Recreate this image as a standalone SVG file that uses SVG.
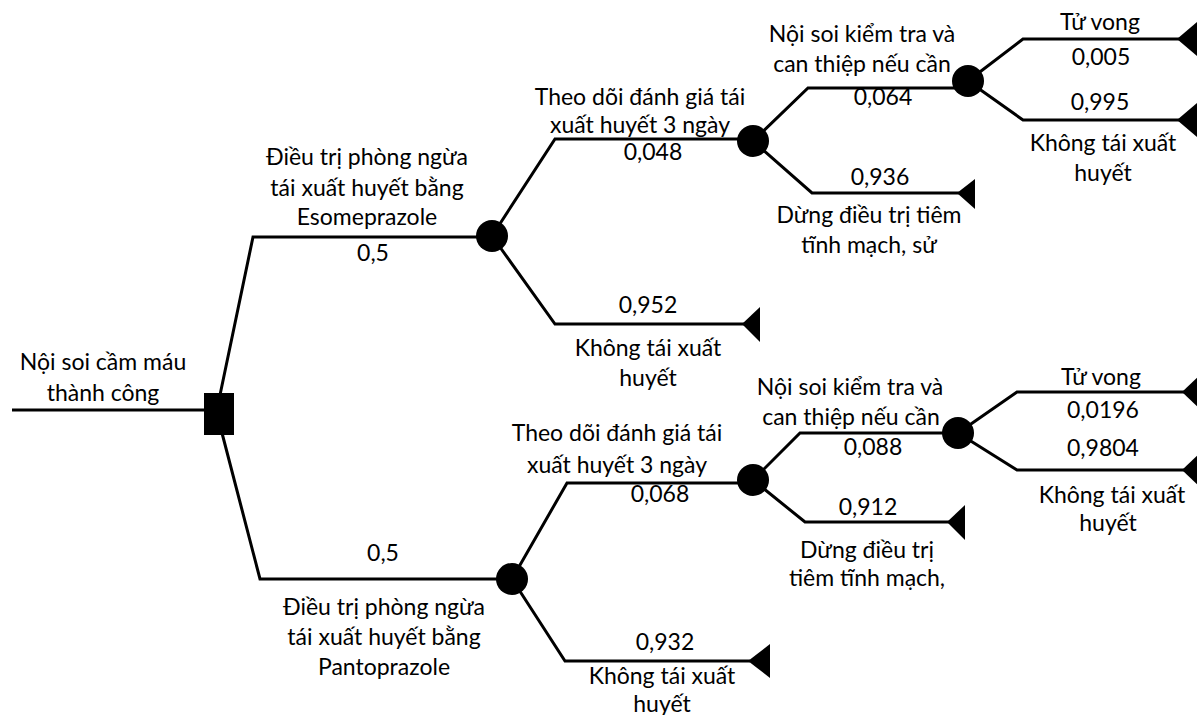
<svg xmlns="http://www.w3.org/2000/svg" width="1197" height="715" viewBox="0 0 1197 715">
<style>
.e{fill:none;stroke:#000;stroke-width:3;stroke-linejoin:miter}
.c{fill:#000}
.t{fill:#000}
text{font-family:Lato,"Liberation Sans",sans-serif;font-size:23px;fill:#000;text-anchor:middle}
</style>
<rect width="1197" height="715" fill="#fff"/>
<g id="connectors">
<path class="e" d="M12,410 H206"/>
<path class="e" d="M220,395 L253,237 H492"/>
<path class="e" d="M222,433 L260,579 H512"/>
<path class="e" d="M492,236 L555,139 H753"/>
<path class="e" d="M492,236 L555,324 H744"/>
<path class="e" d="M753,141 L808,88 H968"/>
<path class="e" d="M753,141 L812,193 H959"/>
<path class="e" d="M968,81 L1023,39 H1180"/>
<path class="e" d="M968,81 L1023,120 H1180"/>
<path class="e" d="M512,579 L567,483 H753"/>
<path class="e" d="M512,579 L565,661 H750"/>
<path class="e" d="M753,480 L800,433 H958"/>
<path class="e" d="M753,480 L805,522 H949"/>
<path class="e" d="M958,433 L1017,392 H1184"/>
<path class="e" d="M958,433 L1017,470 H1184"/>
</g>
<g id="root">
<rect x="204" y="393" width="30" height="42" fill="#000"/>
<text x="103" y="370">Nội soi cầm máu</text>
<text x="103" y="401">thành công</text>
</g>
<g id="esomeprazole">
<circle class="c" cx="492" cy="236" r="16"/>
<text x="367" y="165">Điều trị phòng ngừa</text>
<text x="367" y="196">tái xuất huyết bằng</text>
<text x="367" y="225">Esomeprazole</text>
<text x="373" y="261">0,5</text>
</g>
<g id="eso-theodoi">
<circle class="c" cx="753" cy="141" r="16"/>
<text x="640" y="105">Theo dõi đánh giá tái</text>
<text x="640" y="133">xuất huyết 3 ngày</text>
<text x="653" y="160">0,048</text>
</g>
<g id="eso-khong">
<polygon class="t" points="742,324 760,307 760,342"/>
<text x="648" y="313">0,952</text>
<text x="648" y="356">Không tái xuất</text>
<text x="648" y="386">huyết</text>
</g>
<g id="eso-noisoi">
<circle class="c" cx="968" cy="81" r="16"/>
<text x="862" y="42">Nội soi kiểm tra và</text>
<text x="862" y="72">can thiệp nếu cần</text>
<text x="883" y="105">0,064</text>
</g>
<g id="eso-dung">
<polygon class="t" points="957,193 975,179 975,209"/>
<text x="880" y="185">0,936</text>
<text x="869" y="223">Dừng điều trị tiêm</text>
<text x="869" y="253">tĩnh mạch, sử</text>
</g>
<g id="eso-tuvong">
<polygon class="t" points="1177,39 1197,22 1197,56"/>
<text x="1100" y="30">Tử vong</text>
<text x="1101" y="65">0,005</text>
</g>
<g id="eso-khongtai2">
<polygon class="t" points="1177,120 1197,103 1197,137"/>
<text x="1100" y="110">0,995</text>
<text x="1103" y="151">Không tái xuất</text>
<text x="1103" y="181">huyết</text>
</g>
<g id="pantoprazole">
<circle class="c" cx="512" cy="579" r="16"/>
<text x="383" y="561">0,5</text>
<text x="384" y="615">Điều trị phòng ngừa</text>
<text x="384" y="645">tái xuất huyết bằng</text>
<text x="384" y="675">Pantoprazole</text>
</g>
<g id="panto-theodoi">
<circle class="c" cx="753" cy="480" r="16"/>
<text x="617" y="441">Theo dõi đánh giá tái</text>
<text x="617" y="473">xuất huyết 3 ngày</text>
<text x="660" y="502">0,068</text>
</g>
<g id="panto-khong">
<polygon class="t" points="748,661 770,644 770,678"/>
<text x="665" y="650">0,932</text>
<text x="662" y="684">Không tái xuất</text>
<text x="662" y="712">huyết</text>
</g>
<g id="panto-noisoi">
<circle class="c" cx="958" cy="433" r="16"/>
<text x="850" y="395">Nội soi kiểm tra và</text>
<text x="851" y="425">can thiệp nếu cần</text>
<text x="873" y="455">0,088</text>
</g>
<g id="panto-dung">
<polygon class="t" points="947,522 965,505 965,540"/>
<text x="868" y="515">0,912</text>
<text x="867" y="558">Dừng điều trị</text>
<text x="867" y="586">tiêm tĩnh mạch,</text>
</g>
<g id="panto-tuvong">
<polygon class="t" points="1182,392 1200,375 1200,409"/>
<text x="1101" y="385">Tử vong</text>
<text x="1103" y="418">0,0196</text>
</g>
<g id="panto-khongtai2">
<polygon class="t" points="1182,470 1200,453 1200,487"/>
<text x="1103" y="456">0,9804</text>
<text x="1112" y="503">Không tái xuất</text>
<text x="1108" y="531">huyết</text>
</g>
</svg>
